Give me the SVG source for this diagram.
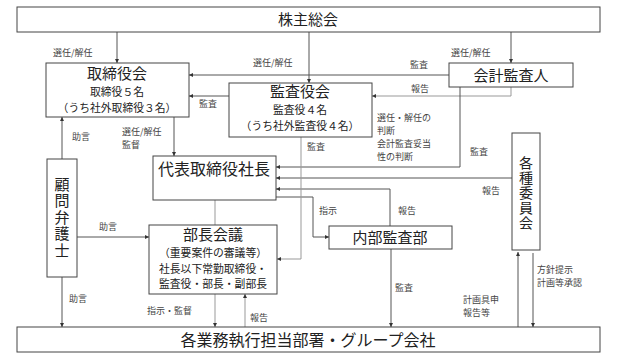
<svg xmlns="http://www.w3.org/2000/svg" width="620" height="358" viewBox="0 0 620 358">
<defs>
<marker id="ah" viewBox="0 0 6 6" refX="6" refY="3" markerWidth="4" markerHeight="4" orient="auto" markerUnits="userSpaceOnUse">
<path d="M0,0 L6,3 L0,6 z" fill="#333"/>
</marker>
<style>
.box{fill:#fff;stroke:#444;stroke-width:1}
.t{font-family:"Noto Sans CJK JP","Noto Sans CJK SC",sans-serif;fill:#222;text-anchor:middle}
.big{font-size:15px}
.v{writing-mode:vertical-rl;glyph-orientation-vertical:0}
.mid{font-size:10.8px}
.lb{font-family:"Noto Sans CJK JP","Noto Sans CJK SC",sans-serif;font-size:9px;fill:#444}
.c{fill:none;stroke:#555;stroke-width:1}
.g{fill:none;stroke:#999;stroke-width:1}
.a{marker-end:url(#ah)}
</style>
</defs>
<rect width="620" height="358" fill="#fff"/>
<g id="connectors">
<path class="c a" d="M117,32 V63"/>
<path class="c a" d="M309,32 V83"/>
<path class="c a" d="M511,32 V63"/>
<path class="c a" d="M449,75 H189"/>
<path class="c a" d="M229,96 H189"/>
<path class="g a" d="M511,87 V96 H372"/>
<path class="c a" d="M174,117 V156"/>
<path class="c a" d="M62,159 V117"/>
<path class="c a" d="M460,87 V167 H276"/>
<path class="c a" d="M512,178 H276"/>
<path class="c a" d="M390,226 V189 H276"/>
<path class="c a" d="M276,197 H313 V237 H329"/>
<path class="g a" d="M301,137 V259 H277"/>
<path class="g" d="M215,200 V225"/>
<path class="c a" d="M77,237 H149"/>
<path class="c a" d="M62,277 V327"/>
<path class="g a" d="M215,294 V327"/>
<path class="g a" d="M245,327 V294"/>
<path class="c a" d="M391,249 V327"/>
<path class="c a" d="M518,327 V252"/>
<path class="c a" d="M533,253 V327"/>
</g>
<g id="kabunushi"><rect class="box" x="17" y="7" width="583" height="25"/><text class="t big" x="308" y="25">株主総会</text></g>
<g id="torishimariyakukai"><rect class="box" x="46" y="63" width="143" height="54"/>
<text class="t big" x="117" y="79">取締役会</text>
<text class="t mid" x="117" y="96">取締役５名<tspan x="117" dy="15.7">（うち社外取締役３名）</tspan></text></g>
<g id="kansayakukai"><rect class="box" x="229" y="83" width="143" height="54"/>
<text class="t big" x="300" y="97">監査役会</text>
<text class="t mid" x="300" y="114">監査役４名<tspan x="300" dy="15.7">（うち社外監査役４名）</tspan></text></g>
<g id="kaikei"><rect class="box" x="449" y="63" width="124" height="24"/><text class="t big" x="511" y="81">会計監査人</text></g>
<g id="shacho"><rect class="box" x="153" y="156" width="123" height="44"/><text class="t" font-size="16" x="214" y="175">代表取締役社長</text></g>
<g id="komon"><rect class="box" x="47" y="159" width="30" height="118"/>
<text class="t v" font-size="15" letter-spacing="1.5" x="62" y="218">顧問弁護士</text></g>
<g id="buchokaigi"><rect class="box" x="149" y="225" width="128" height="69"/>
<text class="t big" x="213" y="239.5">部長会議</text>
<text class="t mid" x="213" y="257">（重要案件の審議等）<tspan x="213" dy="15.7">社長以下常勤取締役・</tspan><tspan x="213" dy="15.7">監査役・部長・副部長</tspan></text></g>
<g id="naibu"><rect class="box" x="329" y="226" width="123" height="23"/><text class="t big" x="390" y="243">内部監査部</text></g>
<g id="iinkai"><rect class="box" x="512" y="133" width="28" height="117"/>
<text class="t v" font-size="14" letter-spacing="1" x="526" y="193">各種委員会</text></g>
<g id="gyomu"><rect class="box" x="17" y="327" width="583" height="25"/><text class="t" font-size="16" x="308" y="346">各業務執行担当部署・グループ会社</text></g>
<g id="labels">
<text class="lb" x="53" y="56">選任/解任</text>
<text class="lb" x="253" y="66">選任/解任</text>
<text class="lb" x="451" y="56">選任/解任</text>
<text class="lb" x="410" y="68">監査</text>
<text class="lb" x="411" y="92">報告</text>
<text class="lb" x="199" y="107">監査</text>
<text class="lb" x="122" y="135">選任/解任<tspan x="122" dy="13.1">監督</tspan></text>
<text class="lb" x="72" y="140">助言</text>
<text class="lb" x="377" y="121">選任・解任の<tspan x="377" dy="13.1">判断</tspan><tspan x="377" dy="13.1">会計監査妥当</tspan><tspan x="377" dy="13.1">性の判断</tspan></text>
<text class="lb" x="470" y="155">監査</text>
<text class="lb" x="307" y="150">監査</text>
<text class="lb" x="482" y="194">報告</text>
<text class="lb" x="319" y="214">指示</text>
<text class="lb" x="398" y="214">報告</text>
<text class="lb" x="99" y="230">助言</text>
<text class="lb" x="69" y="302">助言</text>
<text class="lb" x="147" y="314">指示・監督</text>
<text class="lb" x="250" y="321">報告</text>
<text class="lb" x="395" y="291">監査</text>
<text class="lb" x="463" y="303">計画具申<tspan x="463" dy="13.1">報告等</tspan></text>
<text class="lb" x="537" y="273">方針提示<tspan x="537" dy="13.1">計画等承認</tspan></text>
</g>
</svg>
